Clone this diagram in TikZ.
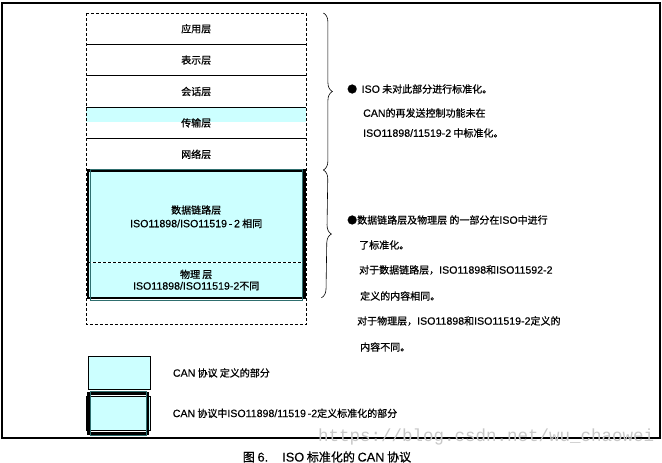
\documentclass[tikz,border=0pt]{standalone}
\usepackage{fontspec}
\setmainfont{Noto Sans CJK SC}[FakeBold=0.7]
\newfontfamily\enfont{Liberation Sans}[Scale=1.06, FakeBold=0.3]
\newfontfamily\wmfont{Liberation Mono}
\newcommand\en[1]{{\enfont #1}}
\usepackage{tikz}
\usetikzlibrary{positioning, calc, backgrounds, decorations.pathreplacing}
\definecolor{CanCyan}{HTML}{CCFFFF}
\definecolor{CanTeal}{HTML}{2F6F6F}
\definecolor{markGray}{HTML}{C8C8C8}

\begin{document}
\begin{tikzpicture}[x=1pt, y=-1pt, font=\fontsize{10}{13.5}\selectfont,
  layer/.style={minimum width=220pt, minimum height=31pt, inner sep=0pt, anchor=north west},
  isobox/.style={minimum width=216pt, inner sep=0pt, anchor=north west, fill=CanCyan, align=center},
  note/.style={anchor=west, inner sep=0pt},
  sep/.style={line width=1.1pt},
  bracket/.style={decorate, decoration={brace, amplitude=9pt}, line width=0.6pt}]
  \def\L{86}\def\R{306}
  \useasboundingbox (0,0) rectangle (662,463);
  % outer frame
  \draw[line width=1.2pt] (2,3) rectangle (660,438);
  % OSI layers not handled by ISO
  \node[layer] (app) at (\L,13) {应用层};
  \node[layer, below=0pt of app] (pres) {表示层};
  \node[layer, below=0pt of pres] (sess) {会话层};
  \node[layer, below=0pt of sess] (trans) {传输层};
  \node[layer, below=0pt of trans] (net) {网络层};
  \begin{scope}[on background layer]
    \fill[CanCyan] (trans.north west) rectangle ([yshift=1pt]trans.east);
  \end{scope}
  \foreach \n in {app,pres,sess,trans,net}
    \draw[sep] (\n.south west) -- (\n.south east);
  % standardised part (data link + physical)
  \node[isobox, minimum height=91pt] (dll) at (\L+2,171)
    {数据链路层\\\en{ISO11898/ISO11519\,-\,2} 相同};
  \node[isobox, minimum height=35pt, below=0pt of dll] (phy)
    {物理 层\\[-2pt]\en{ISO11898/ISO11519-2}不同};
  \node[layer, minimum height=26pt] (empty) at ([xshift=-2pt]phy.south west) {};
  \draw[densely dashed, line width=0.9pt] (dll.south west) -- (dll.south east);
  \draw[line width=2.6pt] (dll.north west) rectangle (phy.south east);
  \draw[CanTeal, line width=0.5pt] ([shift={(2pt,2pt)}]dll.north west) rectangle ([shift={(-2pt,-2pt)}]phy.south east);
  % dotted outline of the whole stack
  \draw[densely dashed, line width=0.9pt] (app.north west) rectangle (empty.south east);
  % braces
  \draw[bracket] ([xshift=17pt]app.north east) -- ([xshift=17pt]net.south east);
  \draw[bracket] ([xshift=17pt]net.south east) -- ([xshift=17pt]phy.south east);
  % notes
  \node[note] (n1) at (347,89) {●\ \ \en{ISO} 未对此部分进行标准化。};
  \node[note] (n2) at (363,113) {\en{CAN}的再发送控制功能未在};
  \node[note] (n3) at (363,133) {\en{ISO11898/11519-2} 中标准化。};
  \node[note] (m1) at (347,220) {●数据链路层及物理层 的一部分在\en{ISO}中进行};
  \node[note] (m2) at (359,245) {了标准化。};
  \node[note] (m3) at (359,270) {对于数据链路层，\en{ISO11898}和\en{ISO11592-2}};
  \node[note] (m4) at (360,296) {定义的内容相同。};
  \node[note] (m5) at (357,321) {对于物理层，\en{ISO11898}和\en{ISO11519-2}定义的};
  \node[note] (m6) at (360,347) {内容不同。};
  % legend
  \node[draw, line width=0.8pt, fill=CanCyan, minimum width=62pt, minimum height=33pt, anchor=north west, inner sep=0pt] (key1) at (88,356) {};
  \node[note, right=22pt of key1] (key1t) {\en{CAN} 协议 定义的部分};
  \node[draw, line width=0.6pt, fill=CanCyan, minimum width=64pt, minimum height=34pt, anchor=north west, inner sep=0pt] (key2) at (86,396) {};
  \draw[line width=2.8pt] ([shift={(2.6pt,2.6pt)}]key2.north west) rectangle ([shift={(-2.6pt,-2.6pt)}]key2.south east);
  \draw[CanTeal, line width=0.5pt] ([shift={(4.5pt,4.5pt)}]key2.north west) rectangle ([shift={(-4.5pt,-4.5pt)}]key2.south east);
  \node[note, right=22pt of key2] (key2t) {\en{CAN} 协议中\en{ISO11898/11519\,-2}定义标准化的部分};
  % watermark and caption
  \node[note, text=markGray, font=\wmfont\fontsize{17.5}{18}\selectfont] (mark) at (318,437) {https://blog.csdn.net/wu\_chaowei};
  \node[font=\fontsize{12}{14}\selectfont] (cap) at (327,457) {图 \en{6.\ \ \ \ ISO} 标准化的 \en{CAN} 协议};
\end{tikzpicture}
\end{document}
